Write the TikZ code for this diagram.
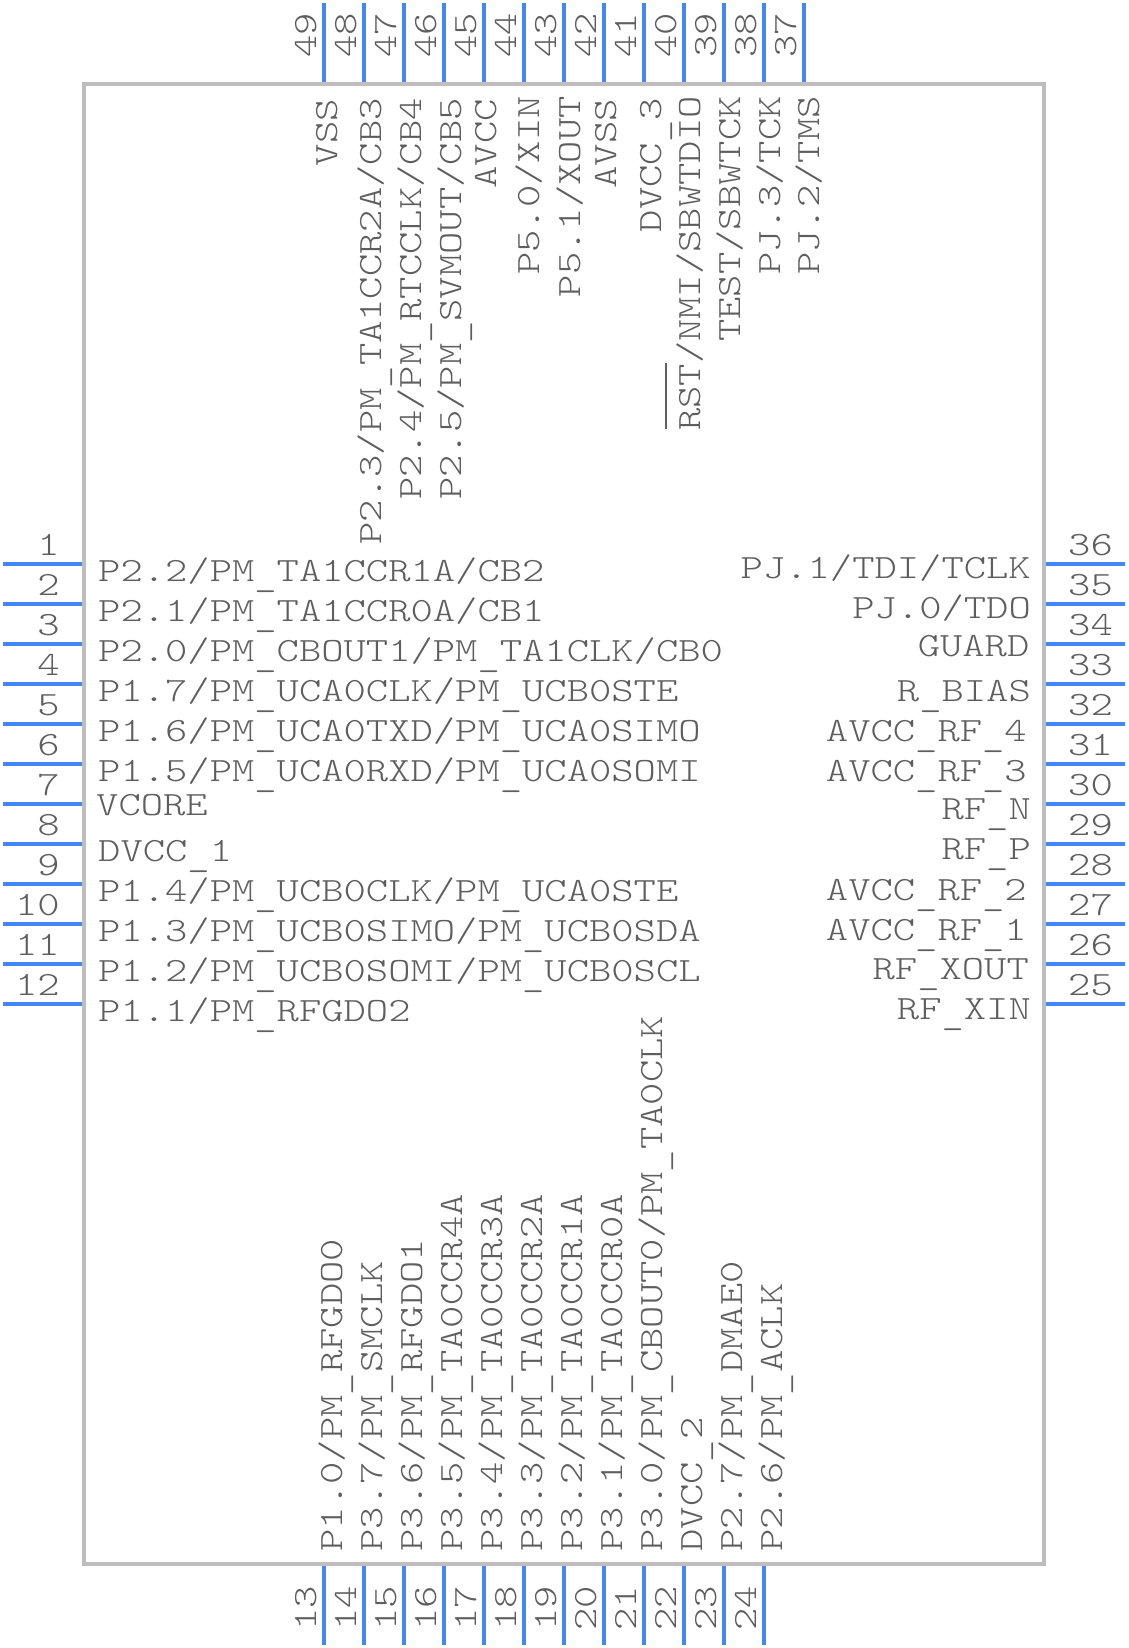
\documentclass[tikz,border=0pt]{standalone}
\usepackage{fontspec}
\setmonofont[FakeStretch=1.25]{Latin Modern Mono Light}
\definecolor{pinblue}{HTML}{4287F5}
\definecolor{bodygrey}{HTML}{BEBEBE}
\definecolor{textgrey}{HTML}{5E5E5E}
\newcommand{\barred}[1]{\rlap{\hspace{2pt}\rule[33pt]{66pt}{1.6pt}}#1}
\newcommand{\usc}{\raisebox{-5pt}{\_}}
\begin{document}
\begin{tikzpicture}[
    x=1pt, y=-1pt,
    chipbody/.style={rectangle, draw=bodygrey, line width=4pt, minimum width=960pt,
        minimum height=1480pt, inner sep=0pt},
    pinwire/.style={draw=pinblue, line width=4pt},
    basetext/.style={text=textgrey, inner sep=0pt, font=\ttfamily\fontsize{34}{34}\selectfont},
    labelleft/.style={basetext, anchor=base west},
    labelright/.style={basetext, anchor=base east},
    labeltop/.style={basetext, rotate=90, anchor=base east},
    labelbottom/.style={basetext, rotate=90, anchor=base west},
    numleft/.style={basetext, anchor=base east},
    numright/.style={basetext, anchor=base west},
    numvert/.style={basetext, rotate=90, anchor=base west}
]
\useasboundingbox (0,0) rectangle (1128,1648);
\node (Body) [chipbody] at (564,824) {};
% left side
\coordinate (Pin01a) at (3,564); \coordinate (Pin01b) at (82,564);
\coordinate (Pin02a) at (3,604); \coordinate (Pin02b) at (82,604);
\coordinate (Pin03a) at (3,644); \coordinate (Pin03b) at (82,644);
\coordinate (Pin04a) at (3,684); \coordinate (Pin04b) at (82,684);
\coordinate (Pin05a) at (3,724); \coordinate (Pin05b) at (82,724);
\coordinate (Pin06a) at (3,764); \coordinate (Pin06b) at (82,764);
\coordinate (Pin07a) at (3,804); \coordinate (Pin07b) at (82,804);
\coordinate (Pin08a) at (3,844); \coordinate (Pin08b) at (82,844);
\coordinate (Pin09a) at (3,884); \coordinate (Pin09b) at (82,884);
\coordinate (Pin10a) at (3,924); \coordinate (Pin10b) at (82,924);
\coordinate (Pin11a) at (3,964); \coordinate (Pin11b) at (82,964);
\coordinate (Pin12a) at (3,1004); \coordinate (Pin12b) at (82,1004);
\draw [pinwire] (Pin01a) -- (Pin01b);
\draw [pinwire] (Pin02a) -- (Pin02b);
\draw [pinwire] (Pin03a) -- (Pin03b);
\draw [pinwire] (Pin04a) -- (Pin04b);
\draw [pinwire] (Pin05a) -- (Pin05b);
\draw [pinwire] (Pin06a) -- (Pin06b);
\draw [pinwire] (Pin07a) -- (Pin07b);
\draw [pinwire] (Pin08a) -- (Pin08b);
\draw [pinwire] (Pin09a) -- (Pin09b);
\draw [pinwire] (Pin10a) -- (Pin10b);
\draw [pinwire] (Pin11a) -- (Pin11b);
\draw [pinwire] (Pin12a) -- (Pin12b);
\node (Num01) [numleft] at (60,555) {1};
\node (Num02) [numleft] at (60,595) {2};
\node (Num03) [numleft] at (60,635) {3};
\node (Num04) [numleft] at (60,675) {4};
\node (Num05) [numleft] at (60,715) {5};
\node (Num06) [numleft] at (60,755) {6};
\node (Num07) [numleft] at (60,795) {7};
\node (Num08) [numleft] at (60,835) {8};
\node (Num09) [numleft] at (60,875) {9};
\node (Num10) [numleft] at (60,915) {10};
\node (Num11) [numleft] at (60,955) {11};
\node (Num12) [numleft] at (60,995) {12};
\node (Label01) [labelleft] at (98,581.5) {P2.2/PM\usc{}TA1CCR1A/CB2};
\node (Label02) [labelleft] at (98,621.5) {P2.1/PM\usc{}TA1CCR0A/CB1};
\node (Label03) [labelleft] at (98,661.5) {P2.0/PM\usc{}CBOUT1/PM\usc{}TA1CLK/CB0};
\node (Label04) [labelleft] at (98,701.5) {P1.7/PM\usc{}UCA0CLK/PM\usc{}UCB0STE};
\node (Label05) [labelleft] at (98,741.5) {P1.6/PM\usc{}UCA0TXD/PM\usc{}UCA0SIMO};
\node (Label06) [labelleft] at (98,781.5) {P1.5/PM\usc{}UCA0RXD/PM\usc{}UCA0SOMI};
\node (Label07) [labelleft] at (96,815.5) {VCORE};
\node (Label08) [labelleft] at (98,861) {DVCC\usc{}1};
\node (Label09) [labelleft] at (98,901.5) {P1.4/PM\usc{}UCB0CLK/PM\usc{}UCA0STE};
\node (Label10) [labelleft] at (98,941.5) {P1.3/PM\usc{}UCB0SIMO/PM\usc{}UCB0SDA};
\node (Label11) [labelleft] at (98,981.5) {P1.2/PM\usc{}UCB0SOMI/PM\usc{}UCB0SCL};
\node (Label12) [labelleft] at (98,1021.5) {P1.1/PM\usc{}RFGDO2};
% bottom side
\coordinate (Pin13a) at (324,1645); \coordinate (Pin13b) at (324,1566);
\coordinate (Pin14a) at (364,1645); \coordinate (Pin14b) at (364,1566);
\coordinate (Pin15a) at (404,1645); \coordinate (Pin15b) at (404,1566);
\coordinate (Pin16a) at (444,1645); \coordinate (Pin16b) at (444,1566);
\coordinate (Pin17a) at (484,1645); \coordinate (Pin17b) at (484,1566);
\coordinate (Pin18a) at (524,1645); \coordinate (Pin18b) at (524,1566);
\coordinate (Pin19a) at (564,1645); \coordinate (Pin19b) at (564,1566);
\coordinate (Pin20a) at (604,1645); \coordinate (Pin20b) at (604,1566);
\coordinate (Pin21a) at (644,1645); \coordinate (Pin21b) at (644,1566);
\coordinate (Pin22a) at (684,1645); \coordinate (Pin22b) at (684,1566);
\coordinate (Pin23a) at (724,1645); \coordinate (Pin23b) at (724,1566);
\coordinate (Pin24a) at (764,1645); \coordinate (Pin24b) at (764,1566);
\draw [pinwire] (Pin13a) -- (Pin13b);
\draw [pinwire] (Pin14a) -- (Pin14b);
\draw [pinwire] (Pin15a) -- (Pin15b);
\draw [pinwire] (Pin16a) -- (Pin16b);
\draw [pinwire] (Pin17a) -- (Pin17b);
\draw [pinwire] (Pin18a) -- (Pin18b);
\draw [pinwire] (Pin19a) -- (Pin19b);
\draw [pinwire] (Pin20a) -- (Pin20b);
\draw [pinwire] (Pin21a) -- (Pin21b);
\draw [pinwire] (Pin22a) -- (Pin22b);
\draw [pinwire] (Pin23a) -- (Pin23b);
\draw [pinwire] (Pin24a) -- (Pin24b);
\node (Num13) [numvert] at (316,1631) {13};
\node (Num14) [numvert] at (356,1631) {14};
\node (Num15) [numvert] at (396,1631) {15};
\node (Num16) [numvert] at (436,1631) {16};
\node (Num17) [numvert] at (476,1631) {17};
\node (Num18) [numvert] at (516,1631) {18};
\node (Num19) [numvert] at (556,1631) {19};
\node (Num20) [numvert] at (596,1631) {20};
\node (Num21) [numvert] at (636,1631) {21};
\node (Num22) [numvert] at (676,1631) {22};
\node (Num23) [numvert] at (716,1631) {23};
\node (Num24) [numvert] at (756,1631) {24};
\node (Label13) [labelbottom] at (342,1551.5) {P1.0/PM\usc{}RFGDO0};
\node (Label14) [labelbottom] at (382,1551.5) {P3.7/PM\usc{}SMCLK};
\node (Label15) [labelbottom] at (422,1551.5) {P3.6/PM\usc{}RFGDO1};
\node (Label16) [labelbottom] at (462,1551.5) {P3.5/PM\usc{}TA0CCR4A};
\node (Label17) [labelbottom] at (502,1551.5) {P3.4/PM\usc{}TA0CCR3A};
\node (Label18) [labelbottom] at (542,1551.5) {P3.3/PM\usc{}TA0CCR2A};
\node (Label19) [labelbottom] at (582,1551.5) {P3.2/PM\usc{}TA0CCR1A};
\node (Label20) [labelbottom] at (622,1551.5) {P3.1/PM\usc{}TA0CCR0A};
\node (Label21) [labelbottom] at (662,1551.5) {P3.0/PM\usc{}CBOUT0/PM\usc{}TA0CLK};
\node (Label22) [labelbottom] at (702,1551.5) {DVCC\usc{}2};
\node (Label23) [labelbottom] at (742,1551.5) {P2.7/PM\usc{}DMAE0};
\node (Label24) [labelbottom] at (782,1551.5) {P2.6/PM\usc{}ACLK};
% right side
\coordinate (Pin25a) at (1125,1004); \coordinate (Pin25b) at (1046,1004);
\coordinate (Pin26a) at (1125,964); \coordinate (Pin26b) at (1046,964);
\coordinate (Pin27a) at (1125,924); \coordinate (Pin27b) at (1046,924);
\coordinate (Pin28a) at (1125,884); \coordinate (Pin28b) at (1046,884);
\coordinate (Pin29a) at (1125,844); \coordinate (Pin29b) at (1046,844);
\coordinate (Pin30a) at (1125,804); \coordinate (Pin30b) at (1046,804);
\coordinate (Pin31a) at (1125,764); \coordinate (Pin31b) at (1046,764);
\coordinate (Pin32a) at (1125,724); \coordinate (Pin32b) at (1046,724);
\coordinate (Pin33a) at (1125,684); \coordinate (Pin33b) at (1046,684);
\coordinate (Pin34a) at (1125,644); \coordinate (Pin34b) at (1046,644);
\coordinate (Pin35a) at (1125,604); \coordinate (Pin35b) at (1046,604);
\coordinate (Pin36a) at (1125,564); \coordinate (Pin36b) at (1046,564);
\draw [pinwire] (Pin25a) -- (Pin25b);
\draw [pinwire] (Pin26a) -- (Pin26b);
\draw [pinwire] (Pin27a) -- (Pin27b);
\draw [pinwire] (Pin28a) -- (Pin28b);
\draw [pinwire] (Pin29a) -- (Pin29b);
\draw [pinwire] (Pin30a) -- (Pin30b);
\draw [pinwire] (Pin31a) -- (Pin31b);
\draw [pinwire] (Pin32a) -- (Pin32b);
\draw [pinwire] (Pin33a) -- (Pin33b);
\draw [pinwire] (Pin34a) -- (Pin34b);
\draw [pinwire] (Pin35a) -- (Pin35b);
\draw [pinwire] (Pin36a) -- (Pin36b);
\node (Num25) [numright] at (1068,995) {25};
\node (Num26) [numright] at (1068,955) {26};
\node (Num27) [numright] at (1068,915) {27};
\node (Num28) [numright] at (1068,875) {28};
\node (Num29) [numright] at (1068,835) {29};
\node (Num30) [numright] at (1068,795) {30};
\node (Num31) [numright] at (1068,755) {31};
\node (Num32) [numright] at (1068,715) {32};
\node (Num33) [numright] at (1068,675) {33};
\node (Num34) [numright] at (1068,635) {34};
\node (Num35) [numright] at (1068,595) {35};
\node (Num36) [numright] at (1068,555) {36};
\node (Label25) [labelright] at (1031,1019) {RF\usc{}XIN};
\node (Label26) [labelright] at (1029,979) {RF\usc{}XOUT};
\node (Label27) [labelright] at (1027,940) {AVCC\usc{}RF\usc{}1};
\node (Label28) [labelright] at (1027,900.5) {AVCC\usc{}RF\usc{}2};
\node (Label29) [labelright] at (1031,859) {RF\usc{}P};
\node (Label30) [labelright] at (1031,819) {RF\usc{}N};
\node (Label31) [labelright] at (1027,781) {AVCC\usc{}RF\usc{}3};
\node (Label32) [labelright] at (1027,741) {AVCC\usc{}RF\usc{}4};
\node (Label33) [labelright] at (1031,701) {R\usc{}BIAS};
\node (Label34) [labelright] at (1029.5,656) {GUARD};
\node (Label35) [labelright] at (1031,618) {PJ.0/TDO};
\node (Label36) [labelright] at (1031,578) {PJ.1/TDI/TCLK};
% top side
\coordinate (Pin37a) at (804,3); \coordinate (Pin37b) at (804,82);
\coordinate (Pin38a) at (764,3); \coordinate (Pin38b) at (764,82);
\coordinate (Pin39a) at (724,3); \coordinate (Pin39b) at (724,82);
\coordinate (Pin40a) at (684,3); \coordinate (Pin40b) at (684,82);
\coordinate (Pin41a) at (644,3); \coordinate (Pin41b) at (644,82);
\coordinate (Pin42a) at (604,3); \coordinate (Pin42b) at (604,82);
\coordinate (Pin43a) at (564,3); \coordinate (Pin43b) at (564,82);
\coordinate (Pin44a) at (524,3); \coordinate (Pin44b) at (524,82);
\coordinate (Pin45a) at (484,3); \coordinate (Pin45b) at (484,82);
\coordinate (Pin46a) at (444,3); \coordinate (Pin46b) at (444,82);
\coordinate (Pin47a) at (404,3); \coordinate (Pin47b) at (404,82);
\coordinate (Pin48a) at (364,3); \coordinate (Pin48b) at (364,82);
\coordinate (Pin49a) at (324,3); \coordinate (Pin49b) at (324,82);
\draw [pinwire] (Pin37a) -- (Pin37b);
\draw [pinwire] (Pin38a) -- (Pin38b);
\draw [pinwire] (Pin39a) -- (Pin39b);
\draw [pinwire] (Pin40a) -- (Pin40b);
\draw [pinwire] (Pin41a) -- (Pin41b);
\draw [pinwire] (Pin42a) -- (Pin42b);
\draw [pinwire] (Pin43a) -- (Pin43b);
\draw [pinwire] (Pin44a) -- (Pin44b);
\draw [pinwire] (Pin45a) -- (Pin45b);
\draw [pinwire] (Pin46a) -- (Pin46b);
\draw [pinwire] (Pin47a) -- (Pin47b);
\draw [pinwire] (Pin48a) -- (Pin48b);
\draw [pinwire] (Pin49a) -- (Pin49b);
\node (Num37) [numvert] at (796,58) {37};
\node (Num38) [numvert] at (756,58) {38};
\node (Num39) [numvert] at (716,58) {39};
\node (Num40) [numvert] at (676,58) {40};
\node (Num41) [numvert] at (636,58) {41};
\node (Num42) [numvert] at (596,58) {42};
\node (Num43) [numvert] at (556,58) {43};
\node (Num44) [numvert] at (516,58) {44};
\node (Num45) [numvert] at (476,58) {45};
\node (Num46) [numvert] at (436,58) {46};
\node (Num47) [numvert] at (396,58) {47};
\node (Num48) [numvert] at (356,58) {48};
\node (Num49) [numvert] at (316,58) {49};
\node (Label37) [labeltop] at (819,96) {PJ.2/TMS};
\node (Label38) [labeltop] at (780,96) {PJ.3/TCK};
\node (Label39) [labeltop] at (740,96) {TEST/SBWTCK};
\node (Label40) [labeltop] at (700,96) {\barred{RST}/NMI/SBWTDIO};
\node (Label41) [labeltop] at (661,98) {DVCC\usc{}3};
\node (Label42) [labeltop] at (616,99) {AVSS};
\node (Label43) [labeltop] at (580,96) {P5.1/XOUT};
\node (Label44) [labeltop] at (539,96) {P5.0/XIN};
\node (Label45) [labeltop] at (496,99) {AVCC};
\node (Label46) [labeltop] at (461,98) {P2.5/PM\usc{}SVMOUT/CB5};
\node (Label47) [labeltop] at (421,98) {P2.4/PM\usc{}RTCCLK/CB4};
\node (Label48) [labeltop] at (381,98) {P2.3/PM\usc{}TA1CCR2A/CB3};
\node (Label49) [labeltop] at (337,99) {VSS};
\end{tikzpicture}
\end{document}
